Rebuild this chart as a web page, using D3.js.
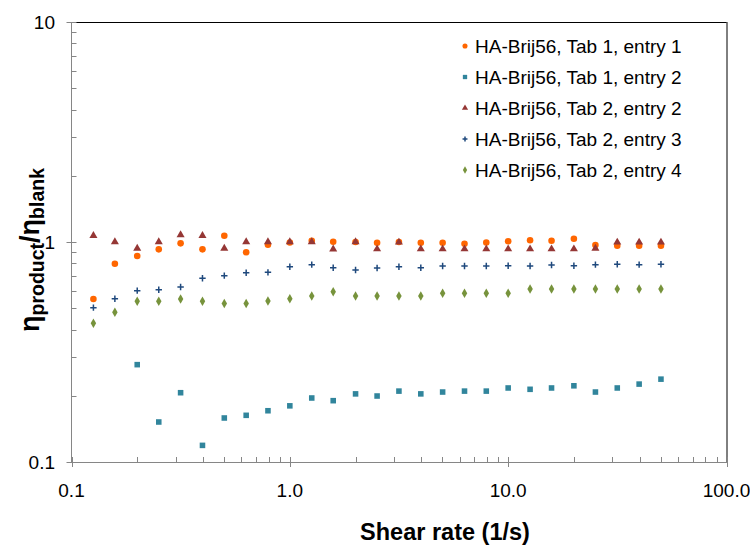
<!DOCTYPE html>
<html>
<head>
<meta charset="utf-8">
<script src="https://cdn.jsdelivr.net/npm/d3@7"></script>
<style>
  html, body { margin: 0; padding: 0; background: #fff; }
  svg { display: block; font-family: "Liberation Sans", Arial, sans-serif; }
</style>
</head>
<body>
<svg id="chart" width="750" height="545"></svg>
<script>
// ---- Data ----
const shearRate = [0.126, 0.158, 0.2, 0.251, 0.316, 0.398, 0.501, 0.631, 0.794, 1,
  1.26, 1.58, 2, 2.51, 3.16, 3.98, 5.01, 6.31, 7.94, 10,
  12.6, 15.8, 20, 25.1, 31.6, 39.8, 50.1];

const tab1Entry1 = [0.551, 0.797, 0.864, 0.926, 0.986, 0.926, 1.068, 0.898, 0.972, 0.995,
  1.014, 1.003, 1.0, 0.993, 1.0, 0.993, 0.993, 0.982, 0.995,
  1.007, 1.018, 1.014, 1.035, 0.969, 0.962, 0.962, 0.962];

const tab1Entry2 = [null, null, 0.277, 0.152, 0.2065, 0.119, 0.1585, 0.163, 0.171, 0.180,
  0.1954, 0.19, 0.204, 0.1995, 0.210, 0.204, 0.208, 0.210, 0.210, 0.217,
  0.214, 0.217, 0.222, 0.208, 0.217, 0.226, 0.238];

const tab2Entry2 = [1.068, 1.0, 0.936, 1.0, 1.076, 1.068, 0.936, 1.0, 1.0, 1.0,
  1.0, 0.927, 1.0, 0.929, 0.997, 0.929, 0.929, 0.929, 0.929,
  0.929, 0.929, 0.929, 0.929, 0.936, 0.997, 0.997, 0.997];

const tab2Entry3 = [0.503, 0.552, 0.601, 0.607, 0.624, 0.684, 0.703, 0.725, 0.728, 0.772,
  0.789, 0.764, 0.746, 0.762, 0.772, 0.764, 0.778, 0.778, 0.778,
  0.78, 0.778, 0.786, 0.78, 0.789, 0.792, 0.789, 0.792];

const tab2Entry4 = [0.427, 0.479, 0.538, 0.538, 0.551, 0.538, 0.526, 0.526, 0.539, 0.552,
  0.568, 0.594, 0.568, 0.568, 0.568, 0.568, 0.585, 0.585, 0.585,
  0.585, 0.612, 0.612, 0.612, 0.612, 0.612, 0.612, 0.612];

const seriesNames = ["HA-Brij56, Tab 1, entry 1", "HA-Brij56, Tab 1, entry 2",
  "HA-Brij56, Tab 2, entry 2", "HA-Brij56, Tab 2, entry 3", "HA-Brij56, Tab 2, entry 4"];

const xTickValues = [0.1, 1, 10, 100];
const xTickLabels = ["0.1", "1.0", "10.0", "100.0"];
const yTickValues = [0.1, 1, 10];
const yTickLabels = ["0.1", "1", "10"];

// ---- Styles ----
const series = [
  { name: seriesNames[0], values: tab1Entry1, color: "#FF6600", type: "circle" },
  { name: seriesNames[1], values: tab1Entry2, color: "#31859C", type: "square" },
  { name: seriesNames[2], values: tab2Entry2, color: "#953735", type: "triangle" },
  { name: seriesNames[3], values: tab2Entry3, color: "#1F497D", type: "plus" },
  { name: seriesNames[4], values: tab2Entry4, color: "#77933C", type: "diamond" }
];

const svg = d3.select("#chart");
const L = 71.5, R = 726.5, T = 22, B = 462;

const x = d3.scaleLog().domain([0.1, 100]).range([L, R]);
const y = d3.scaleLog().domain([0.1, 10]).range([B, T]);

const axisColor = "#868686";

// Axis titles (drawn first so tick labels stay on top)
svg.append("text").attr("x", 445).attr("y", 539.5)
  .attr("text-anchor", "middle").attr("font-weight", "bold").attr("font-size", "23.5px")
  .text("Shear rate (1/s)");

const yt = svg.append("text")
  .attr("transform", "translate(39,332) rotate(-90)")
  .attr("text-anchor", "start").attr("font-weight", "bold").attr("font-size", "27px");
yt.append("tspan").text("η");
yt.append("tspan").attr("font-size", "19.5px").attr("dy", 4.5).text("product");
yt.append("tspan").attr("dy", -4.5).text("/η");
yt.append("tspan").attr("font-size", "19.5px").attr("dy", 4.5).text("blank");

// plot border (top/right)
svg.append("line").attr("x1", L).attr("x2", R).attr("y1", T + 0.5).attr("y2", T + 0.5)
  .attr("stroke", "#000").attr("stroke-width", 1);
svg.append("line").attr("x1", R + 0.5).attr("x2", R + 0.5).attr("y1", T).attr("y2", B)
  .attr("stroke", "#000").attr("stroke-width", 1);

// minor tick values
function minorTicks(domain) {
  const out = [];
  for (let e = Math.log10(domain[0]); e < Math.log10(domain[1]) - 1e-9; e++) {
    for (let k = 2; k <= 9; k++) out.push(k * Math.pow(10, Math.round(e)));
  }
  return out;
}

// X axis
const gx = svg.append("g");
gx.append("line").attr("x1", L).attr("x2", R + 1).attr("y1", B + 0.5).attr("y2", B + 0.5)
  .attr("stroke", axisColor);
gx.selectAll("line.minor").data(minorTicks(x.domain())).enter().append("line")
  .attr("class", "minor")
  .attr("x1", d => Math.round(x(d)) + 0.5).attr("x2", d => Math.round(x(d)) + 0.5)
  .attr("y1", B - 5).attr("y2", B).attr("stroke", axisColor);
gx.selectAll("line.major").data(xTickValues).enter().append("line")
  .attr("class", "major")
  .attr("x1", d => Math.round(x(d)) + 0.5).attr("x2", d => Math.round(x(d)) + 0.5)
  .attr("y1", B - 5).attr("y2", B + 5).attr("stroke", axisColor);
gx.selectAll("text").data(xTickValues).enter().append("text")
  .attr("x", d => x(d)).attr("y", 497)
  .attr("text-anchor", "middle")
  .attr("font-size", "19px").attr("fill", "#000")
  .text((d, i) => xTickLabels[i]);

// Y axis
const gy = svg.append("g");
gy.append("line").attr("x1", L).attr("x2", L).attr("y1", T).attr("y2", B + 1)
  .attr("stroke", axisColor);
gy.selectAll("line.minor").data(minorTicks(y.domain())).enter().append("line")
  .attr("class", "minor")
  .attr("x1", L).attr("x2", L + 5)
  .attr("y1", d => Math.round(y(d)) + 0.5).attr("y2", d => Math.round(y(d)) + 0.5)
  .attr("stroke", axisColor);
gy.selectAll("line.major").data(yTickValues).enter().append("line")
  .attr("class", "major")
  .attr("x1", L - 5).attr("x2", L + 5)
  .attr("y1", d => Math.round(y(d)) + 0.5).attr("y2", d => Math.round(y(d)) + 0.5)
  .attr("stroke", axisColor);
gy.selectAll("text").data(yTickValues).enter().append("text")
  .attr("x", 55).attr("y", d => y(d) + 7)
  .attr("text-anchor", "end")
  .attr("font-size", "19px").attr("fill", "#000")
  .text((d, i) => yTickLabels[i]);

// Symbols
function symbolPath(type, scale) {
  const s = scale || 1;
  switch (type) {
    case "circle": return d3.symbol(d3.symbolCircle, 34 * s)();
    case "square": return d3.symbol(d3.symbolSquare, 31 * s)();
    case "triangle": return d3.symbol(d3.symbolTriangle, 28 * s)();
    case "diamond": return d3.symbol(d3.symbolDiamond, 26 * s)();
    case "plus": {
      const h = 3.2 * Math.sqrt(s);
      return `M${-h},0L${h},0M0,${-h}L0,${h}`;
    }
  }
}

function drawMarker(g, type, color, scale) {
  const p = g.append("path").attr("d", symbolPath(type, scale));
  if (type === "plus") {
    p.attr("fill", "none").attr("stroke", color).attr("stroke-width", 1.5);
  } else {
    p.attr("fill", color);
  }
}

const plot = svg.append("g");
series.forEach(s => {
  const pts = shearRate.map((r, i) => ({ r, v: s.values[i] })).filter(d => d.v != null);
  const gs = plot.append("g");
  gs.selectAll("g").data(pts).enter().append("g")
    .attr("transform", d => `translate(${x(d.r)},${y(d.v)})`)
    .each(function () { drawMarker(d3.select(this), s.type, s.color, 1); });
});

// Legend
const legend = svg.append("g");
series.forEach((s, i) => {
  const cy = 46 + i * 31;
  const gm = legend.append("g").attr("transform", `translate(465,${cy})`);
  drawMarker(gm, s.type, s.color, 0.6);
  legend.append("text").attr("x", 475).attr("y", cy + 7)
    .attr("font-size", "19px").attr("fill", "#000").text(s.name);
});
</script>
</body>
</html>
